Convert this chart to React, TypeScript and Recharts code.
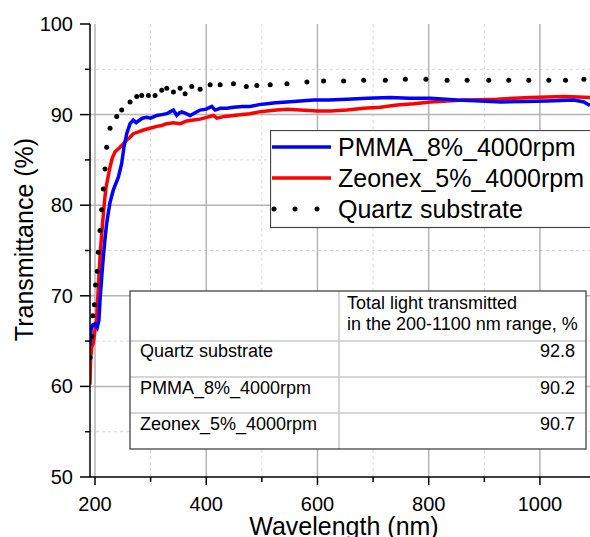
import React from 'react';
import { LineChart, Line, XAxis, YAxis, ReferenceLine, Legend } from 'recharts';

const FONT = '"Liberation Sans", Arial, sans-serif';

// PMMA_8%_4000rpm
const pmmaNm = [191, 193, 196, 200, 204, 207, 209, 212, 215, 218, 221, 224, 227, 233, 242, 248, 252, 257, 263, 269, 274, 278, 285, 293, 300, 311, 320, 329, 335, 341, 347, 352, 356, 364, 371, 380, 389, 400, 410, 416, 425, 437, 449, 465, 479, 495, 509, 525, 545, 569, 593, 620, 653, 690, 731, 765, 803, 851, 893, 930, 970, 1013, 1061, 1079, 1090];
const pmmaT = [64.5, 66.3, 66.8, 66.9, 66.5, 67.3, 69.5, 72.0, 74.3, 76.3, 78.0, 79.2, 80.3, 81.7, 83.1, 84.6, 86.4, 87.9, 89.0, 89.4, 89.1, 89.3, 89.6, 89.7, 89.6, 89.9, 90.0, 90.1, 90.3, 90.5, 89.9, 90.2, 90.3, 90.1, 89.9, 90.2, 90.5, 90.6, 90.9, 90.5, 90.7, 90.7, 90.8, 90.9, 90.9, 91.1, 91.2, 91.3, 91.4, 91.5, 91.6, 91.6, 91.7, 91.8, 91.9, 91.8, 91.8, 91.6, 91.5, 91.4, 91.45, 91.5, 91.6, 91.4, 91.0];

// Zeonex_5%_4000rpm
const zeonexNm = [191, 192, 194, 197, 200, 203, 206, 209, 212, 215, 218, 220, 224, 227, 231, 236, 245, 251, 257, 263, 269, 278, 287, 299, 311, 320, 329, 341, 353, 365, 377, 389, 401, 413, 419, 433, 449, 465, 479, 495, 509, 527, 545, 569, 600, 623, 653, 683, 713, 743, 773, 803, 833, 863, 893, 923, 953, 983, 1013, 1043, 1070, 1090];
const zeonexT = [60.2, 62.9, 64.3, 64.8, 66.2, 67.5, 71.0, 74.3, 76.8, 79.0, 81.0, 82.0, 83.3, 84.2, 85.2, 85.9, 86.4, 86.8, 87.2, 87.5, 87.9, 88.1, 88.3, 88.5, 88.7, 88.8, 89.0, 89.1, 89.0, 89.3, 89.4, 89.5, 89.7, 89.9, 89.6, 89.8, 89.9, 90.0, 90.1, 90.3, 90.4, 90.5, 90.6, 90.5, 90.4, 90.4, 90.5, 90.7, 90.8, 91.05, 91.2, 91.4, 91.5, 91.6, 91.65, 91.7, 91.8, 91.9, 91.95, 92.0, 91.95, 91.9];

// Quartz substrate
const quartzNm = [191, 194, 196, 199, 201, 204, 206, 209, 212, 215, 218, 221, 227, 239, 248, 263, 275, 284, 296, 308, 320, 329, 341, 353, 362, 374, 389, 407, 425, 449, 472, 491, 515, 545, 581, 611, 647, 683, 722, 758, 795, 833, 869, 908, 944, 980, 1016, 1046, 1079];
const quartzT = [63.2, 65.5, 67.8, 69.0, 71.2, 72.7, 74.8, 77.2, 79.5, 81.8, 84.0, 86.4, 88.5, 89.8, 90.5, 91.4, 92.0, 92.1, 92.1, 92.1, 92.7, 92.9, 92.5, 92.9, 92.3, 93.1, 92.8, 93.3, 93.3, 93.4, 93.1, 93.2, 93.3, 93.4, 93.6, 93.7, 93.7, 93.8, 93.8, 93.9, 93.9, 93.8, 93.8, 93.8, 93.8, 93.8, 93.8, 93.8, 93.9];

const xMajor = [200, 400, 600, 800, 1000];
const xMinor = [300, 500, 700, 900];
const yMajor = [60, 70, 80, 90];
const yMinor = [55, 65, 75, 85, 95];
const xTicks = [200, 300, 400, 500, 600, 700, 800, 900, 1000];
const yTicks = [50, 55, 60, 65, 70, 75, 80, 85, 90, 95, 100];

const tableHeader = ['Total light transmitted', 'in the 200-1100 nm range, %'];
const tableNames = ['Quartz substrate', 'PMMA_8%_4000rpm', 'Zeonex_5%_4000rpm'];
const tableValues = ['92.8', '90.2', '90.7'];

const series = [
  { name: 'PMMA_8%_4000rpm', color: '#0000ff', dotted: false },
  { name: 'Zeonex_5%_4000rpm', color: '#ff0000', dotted: false },
  { name: 'Quartz substrate', color: '#000000', dotted: true },
];

const zip = (nm: number[], t: number[]) => nm.map((w, i) => ({ nm: w, t: t[i] }));
const pmma = zip(pmmaNm, pmmaT);
const zeonex = zip(zeonexNm, zeonexT);
const quartz = zip(quartzNm, quartzT);

const XTick = (props: any) => {
  const { x, y, payload } = props;
  const major = payload.value % 200 === 0;
  return (
    <g>
      <line x1={x} x2={x} y1={y} y2={y + (major ? 8 : 5)} stroke="#000" strokeWidth={1.5} />
      {major && (
        <text x={x} y={y + 34} textAnchor="middle" fontSize={20} fontFamily={FONT} fill="#000">
          {payload.value}
        </text>
      )}
    </g>
  );
};

const YTick = (props: any) => {
  const { x, y, payload } = props;
  const major = payload.value % 10 === 0;
  return (
    <g>
      <line x1={x} x2={x - (major ? 10 : 5)} y1={y} y2={y} stroke="#000" strokeWidth={1.5} />
      {major && (
        <text x={x - 17} y={y + 7} textAnchor="end" fontSize={20} fontFamily={FONT} fill="#000">
          {payload.value}
        </text>
      )}
    </g>
  );
};

const XTitle = (props: any) => {
  const vb = props.viewBox;
  return (
    <text x={vb.x + vb.width / 2 + 4} y={vb.y + 58} textAnchor="middle" fontSize={25} fontFamily={FONT} fill="#000">
      Wavelength (nm)
    </text>
  );
};

const YTitle = (props: any) => {
  const vb = props.viewBox;
  const cx = vb.x + 33;
  const cy = vb.y + vb.height / 2 - 11;
  return (
    <text x={cx} y={cy} transform={`rotate(-90, ${cx}, ${cy})`} textAnchor="middle" fontSize={25} fontFamily={FONT} fill="#000">
      Transmittance (%)
    </text>
  );
};

const renderLegend = () => (
  <svg width={320} height={99} style={{ display: 'block' }}>
    <rect x={0.5} y={0.5} width={330} height={97} fill="#fff" stroke="#444" strokeWidth={1.2} />
    {series.map((s, i) => {
      const cy = 17 + i * 31;
      return (
        <g key={s.name}>
          {s.dotted ? (
            [4, 25, 47].map((dx) => <circle key={dx} cx={dx} cy={cy} r={2.5} fill="#000" />)
          ) : (
            <line x1={2} x2={61} y1={cy} y2={cy} stroke={s.color} strokeWidth={3.5} />
          )}
          <text x={68} y={cy + 9} fontSize={25} fontFamily={FONT} fill="#000">
            {s.name}
          </text>
        </g>
      );
    })}
  </svg>
);

const Table = () => {
  const left = 130;
  const top = 291;
  const right = 586;
  const bottom = 449;
  const colX = 339;
  const rowYs = [341, 377, 413];
  return (
    <svg width={590} height={537} style={{ position: 'absolute', left: 0, top: 0, pointerEvents: 'none' }}>
      <rect x={left} y={top} width={right - left} height={bottom - top} fill="#fff" />
      {rowYs.map((ry) => (
        <line key={ry} x1={left} x2={right} y1={ry} y2={ry} stroke="#c8c8c8" strokeWidth={1.5} />
      ))}
      <line x1={colX} x2={colX} y1={top} y2={bottom} stroke="#c8c8c8" strokeWidth={1.5} />
      <rect x={left} y={top} width={right - left} height={bottom - top} fill="none" stroke="#444" strokeWidth={1.3} />
      {tableHeader.map((h, i) => (
        <text key={h} x={347} y={309 + i * 21} fontSize={18} fontFamily={FONT} fill="#000">
          {h}
        </text>
      ))}
      {tableNames.map((n, i) => (
        <text key={n} x={140} y={357 + i * 36.5} fontSize={18} fontFamily={FONT} fill="#000">
          {n}
        </text>
      ))}
      {tableValues.map((v, i) => (
        <text key={i} x={575} y={357 + i * 36.5} textAnchor="end" fontSize={18} fontFamily={FONT} fill="#000">
          {v}
        </text>
      ))}
    </svg>
  );
};

export default function App() {
  return (
    <div style={{ position: 'absolute', left: 0, top: 0, width: 590, height: 537, overflow: 'hidden', background: '#fff' }}>
      <LineChart width={590} height={537} margin={{ top: 24, right: 0, left: 0, bottom: 0 }}>
        <XAxis
          dataKey="nm"
          type="number"
          domain={[191, 1090]}
          ticks={xTicks}
          interval={0}
          allowDataOverflow
          tickSize={0}
          tickMargin={0}
          tickLine={false}
          tick={<XTick />}
          height={60}
          axisLine={{ stroke: '#000', strokeWidth: 1.5 }}
          label={<XTitle />}
        />
        <YAxis
          type="number"
          domain={[50, 100]}
          ticks={yTicks}
          interval={0}
          allowDataOverflow
          tickSize={0}
          tickMargin={0}
          tickLine={false}
          tick={<YTick />}
          width={90}
          axisLine={{ stroke: '#000', strokeWidth: 1.5 }}
          label={<YTitle />}
        />
        {xMinor.map((v) => (
          <ReferenceLine key={'xm' + v} x={v} stroke="#d8d8d8" strokeDasharray="3 3" strokeWidth={1} />
        ))}
        {yMinor.map((v) => (
          <ReferenceLine key={'ym' + v} y={v} stroke="#d8d8d8" strokeDasharray="3 3" strokeWidth={1} />
        ))}
        {xMajor.map((v) => (
          <ReferenceLine key={'xM' + v} x={v} stroke="#b4b4b4" strokeWidth={1.5} />
        ))}
        {yMajor.map((v) => (
          <ReferenceLine key={'yM' + v} y={v} stroke="#b4b4b4" strokeWidth={1.5} />
        ))}
        <Line data={zeonex} dataKey="t" name="Zeonex_5%_4000rpm" stroke="#ff0000" strokeWidth={3.5} dot={false} isAnimationActive={false} />
        <Line data={pmma} dataKey="t" name="PMMA_8%_4000rpm" stroke="#0000ff" strokeWidth={3.5} dot={false} isAnimationActive={false} />
        <Line
          data={quartz}
          dataKey="t"
          name="Quartz substrate"
          stroke="none"
          dot={{ r: 2.5, fill: '#000', stroke: 'none' }}
          isAnimationActive={false}
        />
        <Legend
          layout="horizontal"
          verticalAlign="middle"
          align="center"
          content={renderLegend}
          wrapperStyle={{ position: 'absolute', left: 270, top: 130, width: 320, height: 99 }}
        />
      </LineChart>
      <Table />
    </div>
  );
}
